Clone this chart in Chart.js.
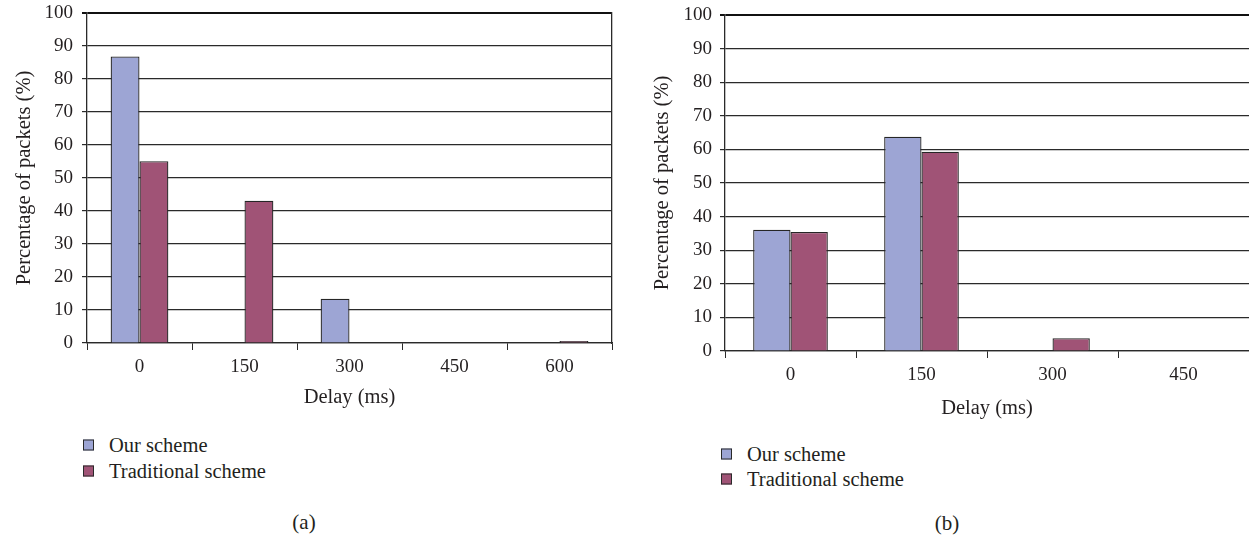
<!DOCTYPE html>
<html>
<head>
<meta charset="utf-8">
<script src="https://cdn.jsdelivr.net/npm/chart.js@4/dist/chart.umd.min.js"></script>
<style>
  html, body { margin: 0; padding: 0; background: #fff; }
  body { width: 1249px; height: 535px; position: relative; overflow: hidden;
         font-family: "Liberation Serif", "Times New Roman", serif; color: #231f20; }
  .box { position: absolute; }
  .legend { position: absolute; font-size: 20.5px; }
  .legend .item { position: absolute; left: 0; display: flex; align-items: center; white-space: nowrap; transform: translateY(-50%); }
  .legend .sw { width: 9px; height: 9px; border: 1px solid #2a2a2a; box-sizing: content-box; margin-right: 15px; }
  .cap { position: absolute; font-size: 21px; transform: translate(-50%, -50%); white-space: nowrap; }
</style>
</head>
<body>
<div class="box" id="boxA" style="left:0;top:0;width:624px;height:414px;"><canvas id="chartA"></canvas></div>
<div class="box" id="boxB" style="left:640px;top:0;width:609px;height:425px;"><canvas id="chartB"></canvas></div>
<div class="legend" id="legendA" style="left:83px;top:445px;"></div>
<div class="legend" id="legendB" style="left:721px;top:454px;"></div>
<div class="cap" style="left:304px;top:522px;">(a)</div>
<div class="cap" style="left:947px;top:523px;">(b)</div>

<script>
// Delay categories (ms) and packet percentages for each scheme
const delaysA = ['0', '150', '300', '450', '600'];
const ourSchemeA = [86.8, 0, 13.4, 0, 0];
const tradSchemeA = [55.1, 43.1, 0, 0, 0.6];

const delaysB = ['0', '150', '300', '450'];
const ourSchemeB = [36.1, 63.8, 0, 0];
const tradSchemeB = [35.4, 59.3, 3.8, 0];

const seriesNames = ['Our scheme', 'Traditional scheme'];
const seriesColors = ['#9da5d4', '#a05376'];

const yTicks = [0, 10, 20, 30, 40, 50, 60, 70, 80, 90, 100];

const INK = '#231f20';
const GRID = '#2a2a2a';
const FONT = '"Liberation Serif", "Times New Roman", serif';

function makeChart(canvasId, labels, ours, trad, g) {
  const datasets = [ours, trad].map((vals, i) => ({
    label: seriesNames[i],
    data: vals,
    backgroundColor: seriesColors[i],
    borderColor: '#262626',
    borderWidth: 1.3,
    borderSkipped: 'bottom',
    categoryPercentage: g.catPct,
    barPercentage: 1.0
  }));

  return new Chart(document.getElementById(canvasId), {
    type: 'bar',
    data: { labels, datasets },
    options: {
      responsive: true,
      maintainAspectRatio: false,
      animation: false,
      events: [],
      layout: { padding: { top: g.top, right: g.right, left: 0, bottom: 0 } },
      plugins: { legend: { display: false }, tooltip: { enabled: false } },
      scales: {
        x: {
          grid: { display: true, drawOnChartArea: false, drawTicks: true, tickLength: 7, color: GRID, offset: true },
          border: { display: true, color: GRID, width: 1.3 },
          ticks: { color: INK, font: { family: FONT, size: 19 }, padding: 6, maxRotation: 0 },
          title: { display: true, text: 'Delay (ms)', color: INK, font: { family: FONT, size: 20.5 }, padding: { top: 4, bottom: 4 } },
          afterFit(s) { s.height = g.xh; s.paddingLeft = 0; s.paddingRight = 0; }
        },
        y: {
          min: 0, max: 100,
          afterBuildTicks(s) { s.ticks = yTicks.map(v => ({ value: v })); },
          grid: {
            color: ctx => (ctx.tick && ctx.tick.value === 100) ? '#111' : GRID,
            lineWidth: ctx => (ctx.tick && ctx.tick.value === 100) ? 2 : 1.2,
            drawTicks: true, tickLength: 5
          },
          border: { display: true, color: GRID, width: 1.3 },
          ticks: { color: INK, font: { family: FONT, size: 19 }, padding: g.tickPad },
          title: { display: true, text: 'Percentage of packets (%)', color: INK, font: { family: FONT, size: 20.5 }, padding: { top: g.titlePad, bottom: 4 } },
          afterFit(s) { s.width = g.yw; s.paddingTop = 0; s.paddingBottom = 0; }
        },
        edge: {
          position: 'right',
          display: g.rightEdge,
          grid: { drawOnChartArea: false, drawTicks: false },
          border: { display: true, color: GRID, width: 1.3 },
          ticks: { display: false },
          afterFit(s) { s.width = 0; s.paddingTop = 0; s.paddingBottom = 0; }
        }
      }
    }
  });
}

makeChart('chartA', delaysA, ourSchemeA, tradSchemeA,
  { top: 13, right: 12, yw: 87, xh: 71, catPct: 0.55, tickPad: 9, titlePad: 12, rightEdge: true });
makeChart('chartB', delaysB, ourSchemeB, tradSchemeB,
  { top: 15, right: 0, yw: 85, xh: 74, catPct: 0.57, tickPad: 8, titlePad: 10, rightEdge: false });

// Legends listing both series with their fill colours
function buildLegend(id, gap) {
  const el = document.getElementById(id);
  seriesNames.forEach((name, i) => {
    const item = document.createElement('div');
    item.className = 'item';
    item.style.top = (i * gap) + 'px';
    const sw = document.createElement('span');
    sw.className = 'sw';
    sw.style.background = seriesColors[i];
    item.appendChild(sw);
    item.appendChild(document.createTextNode(name));
    el.appendChild(item);
  });
}
buildLegend('legendA', 26);
buildLegend('legendB', 25);
</script>
</body>
</html>
